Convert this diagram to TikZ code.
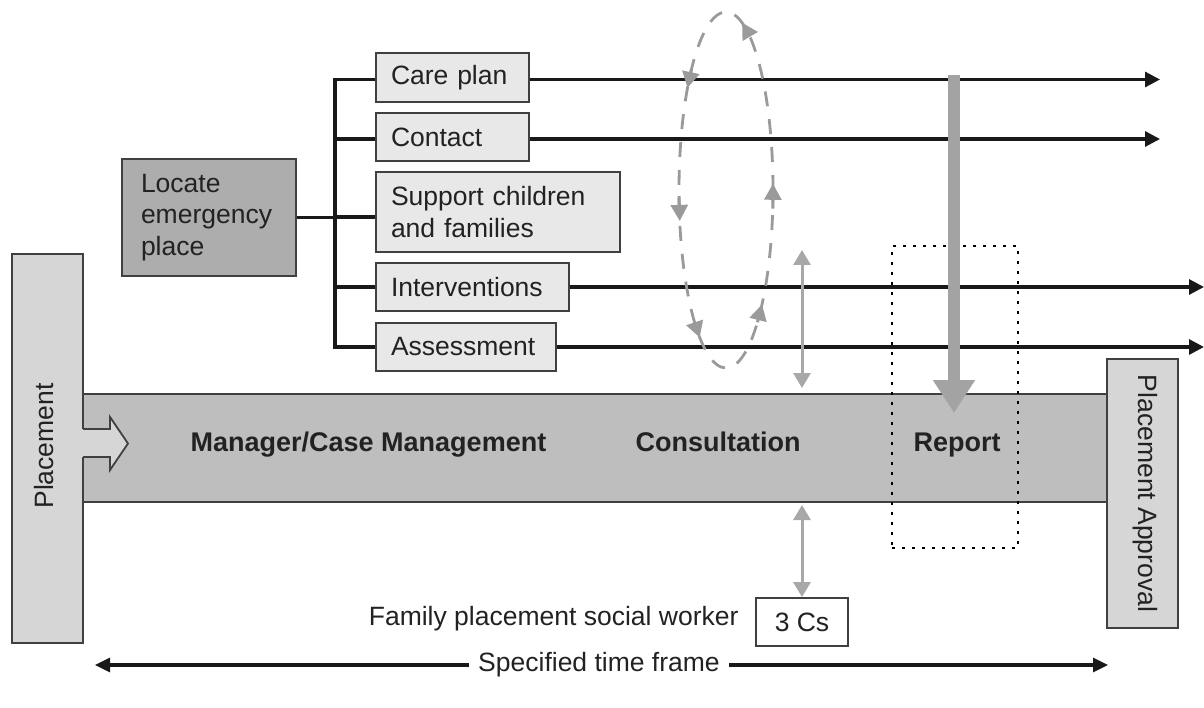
\documentclass[tikz,border=0pt]{standalone}
\usepackage{fontspec}
\setmainfont{Liberation Sans}
\usetikzlibrary{arrows.meta,calc}
\definecolor{boxfill}{HTML}{E8E8E8}
\definecolor{locfill}{HTML}{ADADAD}
\definecolor{pfill}{HTML}{D6D6D6}
\definecolor{bandfill}{HTML}{BEBEBE}
\definecolor{edge}{HTML}{404040}
\definecolor{bigarr}{HTML}{A3A3A3}
\definecolor{dashc}{HTML}{9A9A9A}
\definecolor{dblc}{HTML}{A8A8A8}
\definecolor{txt}{HTML}{222222}
\begin{document}
\begin{tikzpicture}[x=1pt,y=-1pt,
  every node/.style={font=\fontsize{26.5}{31.6}\selectfont, text=txt},
  sbox/.style={draw=edge, line width=1.8pt, fill=boxfill, minimum height=48pt, inner xsep=15pt, inner ysep=0pt, align=left},
  bigbox/.style={draw=edge, line width=1.8pt, inner sep=0pt},
  conn/.style={line width=3.1pt, black!90},
  blk/.style={-{Triangle[length=15pt,width=15pt]}},
  bandtxt/.style={font=\fontsize{27}{31}\selectfont\bfseries, anchor=base},
  dbl/.style={dblc, line width=3pt, {Triangle[length=15pt,width=17pt]}-{Triangle[length=15pt,width=17pt]}},
  ellarrow/.style={dashc, line width=3pt, -{Triangle[length=16pt,width=17pt]}}
]
\useasboundingbox (0,0) rectangle (1204,708);

% band and side boxes
\node[bigbox, fill=bandfill, minimum width=1024pt, minimum height=108pt] (band) at (595,448) {};
\node[bigbox, fill=pfill, minimum width=71pt, minimum height=389pt] (place) at (47.5,448.5) {};
\node[rotate=90] (placetxt) at (44,446) {Placement};
\node[bigbox, fill=pfill, minimum width=71pt, minimum height=269pt] (appr) at (1142.5,493.5) {};
\node[rotate=-90] (apprtxt) at (1145,493.5) {Placement Approval};

% block arrow from Placement into band
\fill[pfill] (81.2,429) -- (110,429) -- (110,417) -- (128,443.5) -- (110,470) -- (110,457) -- (81.2,457) -- cycle;
\draw[edge, line width=1.8pt, line join=miter] (83,429) -- (110,429) -- (110,417) -- (128,443.5) -- (110,470) -- (110,457) -- (83,457);

% band labels
\node[bandtxt] (mgr) at (368.5,451) {Manager/Case Management};
\node[bandtxt] (cons) at (718,451) {Consultation};
\node[bandtxt] (rep) at (957,451) {Report};

% left boxes
\node[draw=edge, line width=1.8pt, fill=locfill, text width=136pt, inner xsep=19pt, inner ysep=0pt, minimum height=117pt, align=left] (loc) at (209,217.5) {Locate\\emergency\\place};
\node[sbox, text width=123pt, minimum height=49pt] (care) at (452.5,77.5) {Care plan};
\node[sbox, text width=123pt] (contact) at (452.5,137) {Contact};
\node[sbox, text width=214pt, minimum height=80pt] (support) at (498,212) {Support children\\and families};
\node[sbox, text width=163pt] (interv) at (472.5,287) {Interventions};
\node[sbox, text width=150pt] (assess) at (466,347) {Assessment};

% tree connectors
\coordinate (tr) at (335,0);
\draw[conn] (loc.east) -- (loc.east -| tr);
\draw[conn] ([yshift=-2pt]care.west) -- ([yshift=-2pt]care.west -| tr) -- (assess.west -| tr) -- (assess.west);
\draw[conn] ([yshift=-2pt]contact.west) -- ([yshift=-2pt]contact.west -| tr);
\draw[conn] ([yshift=-5pt]support.west) -- ([yshift=-5pt]support.west -| tr);
\draw[conn] (interv.west) -- (interv.west -| tr);

% long arrows
\coordinate (endA) at (1160,0);
\coordinate (endB) at (1204,0);
\draw[conn, blk] ([yshift=-2pt]care.east) -- ([yshift=-2pt]care.east -| endA);
\draw[conn, blk] ([yshift=-2pt]contact.east) -- ([yshift=-2pt]contact.east -| endA);
\draw[conn, blk] (interv.east) -- (interv.east -| endB);
\draw[conn, blk] (assess.east) -- (assess.east -| endB);

% dotted report frame
\node[draw=black, dash pattern=on 3pt off 7pt, line width=2.6pt, minimum width=126pt, minimum height=302pt, inner sep=0pt] (repbox) at (955,397) {};

% big gray arrow
\coordinate (gs) at (954,75);
\coordinate (ge) at (954,413);
\draw[bigarr, line width=12pt, -{Triangle[length=33pt,width=40pt]}] (gs) -- (ge);

% dashed cycle
\draw[dashc, line width=2.8pt, dash pattern=on 15pt off 13pt] (726,190) ellipse [x radius=47pt, y radius=178pt];
\foreach \t in {40,124,170,215,290,358}
  \draw[ellarrow] ({726+47*cos(\t+8)},{190+178*sin(\t+8)}) -- ({726+47*cos(\t)},{190+178*sin(\t)});

% consultation double arrows
\node[draw=edge, line width=1.8pt, fill=white, minimum width=92pt, minimum height=48pt, inner sep=0pt] (cs) at (802,622) {3 Cs};
\coordinate (d1a) at (802,250);
\coordinate (d1b) at (802,388);
\coordinate (d2a) at (802,505);
\draw[dbl] (d1a) -- (d1b);
\draw[dbl] (d2a) -- (cs.north);
\node[anchor=base east] (fam) at (742,625) {Family placement social worker};

% time frame
\coordinate (tfl) at (95,665);
\coordinate (tfr) at (1108,665);
\draw[conn, {Triangle[length=15pt,width=14pt]}-{Triangle[length=15pt,width=14pt]}] (tfl) -- (tfr);
\node[fill=white, inner xsep=9pt, inner ysep=2pt] (tf) at (599,665) {Specified time frame};
\end{tikzpicture}
\end{document}
